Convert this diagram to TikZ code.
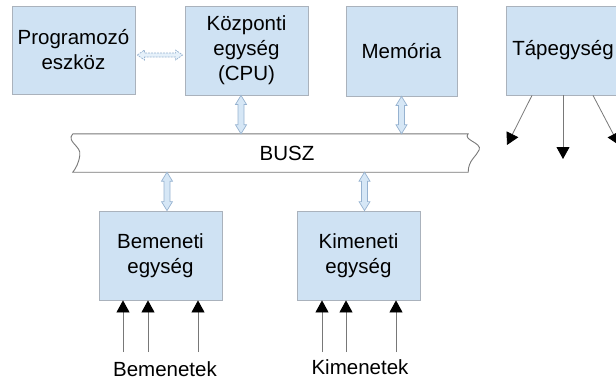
\documentclass[tikz,border=0pt]{standalone}
\usepackage{fontspec}
\setmainfont{Liberation Sans}
\usepackage{tikz}
\usetikzlibrary{arrows.meta}
\usetikzlibrary{calc}
\definecolor{unitfill}{RGB}{207,226,243}
\definecolor{unitedge}{RGB}{170,178,188}
\definecolor{linkfill}{RGB}{214,231,246}
\definecolor{linkedge}{RGB}{150,178,208}
\definecolor{wire}{RGB}{120,120,120}
\tikzset{unit/.style={draw=unitedge, fill=unitfill, line width=0.8pt, inner sep=0pt,
   align=center, minimum width=123pt, minimum height=89pt},
 busarrow/.style={draw=linkedge, fill=linkfill, line width=0.7pt,
   to path={let \p1=(\tikztostart), \p2=(\tikztotarget) in
   (\x1,\y1) -- (\x1+5.5pt,\y1-9pt) -- (\x1+3pt,\y1-9pt) -- (\x1+3pt,\y2+9pt)
   -- (\x1+5.5pt,\y2+9pt) -- (\x1,\y2) -- (\x1-5.5pt,\y2+9pt) -- (\x1-3pt,\y2+9pt)
   -- (\x1-3pt,\y1-9pt) -- (\x1-5.5pt,\y1-9pt) -- cycle}},
 linkarrow/.style={draw=linkedge, fill=linkfill!60, line width=0.7pt,
   dash pattern=on 2pt off 1pt,
   to path={let \p1=(\tikztostart), \p2=(\tikztotarget) in
   (\x1,\y1) -- (\x1+7pt,\y1+5pt) -- (\x1+7pt,\y1+2pt) -- (\x2-7pt,\y1+2pt)
   -- (\x2-7pt,\y1+5pt) -- (\x2,\y1) -- (\x2-7pt,\y1-5pt) -- (\x2-7pt,\y1-2pt)
   -- (\x1+7pt,\y1-2pt) -- (\x1+7pt,\y1-5pt) -- cycle}},
 sig/.style={draw=wire, line width=0.8pt, -{Triangle[width=13pt,length=12pt,color=black]}},
 busline/.style={draw=wire, line width=0.9pt},
 caption/.style={anchor=base, inner sep=0pt},
}

\begin{document}
\begin{tikzpicture}[x=1pt, y=-1pt, every node/.style={font=\fontsize{20.5}{25}\selectfont}]
    \useasboundingbox (0,0) rectangle (616,381);

    % top row
    \node[unit, minimum height=88pt] (prog) at (73.5,50) {Programozó\\eszköz};
    \node[unit] (cpu) at (246.5,50.5) {Központi\\egység\\(CPU)};
    \node[unit, minimum width=111pt, minimum height=90pt] (mem) at (401.5,51) {Memória};
    \node[unit, minimum width=114pt] (psu) at (563,50.5) {Tápegység};
    \draw[linkarrow] ($(prog.east)+(2,5)$) to ($(cpu.west)+(-2,5)$);

    % bus
    \node[minimum width=395pt, minimum height=38pt, inner sep=0pt] (bus) at (270.5,153) {};
    \node (busz) at (287,153) {BUSZ};
    \draw[busline] (bus.north west) -- (bus.north east)
        .. controls +(-6,6) and +(3,-7) .. ++(11,16)
        .. controls +(-3,7) and +(0,-12) .. (bus.south east)
        -- (bus.south west)
        .. controls +(3,-4) and +(-1,8) .. ++(7,-17)
        .. controls +(2,-9) and +(-7,8) .. (bus.north west);

    % bottom row
    \node[unit] (inunit) at (160.5,255.5) {Bemeneti\\egység};
    \node[unit] (outunit) at (358.5,255.5) {Kimeneti\\egység};
    \node[caption] (inlabel) at (165,376.5) {Bemenetek};
    \node[caption] (outlabel) at (360,374) {Kimenetek};

    % bus links
    \coordinate (cpulink) at ([xshift=-5.5pt]cpu.south);
    \coordinate (inlink) at ([xshift=6.5pt]inunit.north);
    \coordinate (outlink) at ([xshift=6pt]outunit.north);
    \draw[busarrow] (cpulink) to (cpulink |- bus.north);
    \draw[busarrow] (mem.south) to (mem.south |- bus.north);
    \draw[busarrow] (inlink |- bus.south) to (inlink);
    \draw[busarrow] (outlink |- bus.south) to (outlink);

    % signals
    \foreach \x[count=\i] in {123, 148, 198} {
        \coordinate (in\i) at (\x,352);
        \draw[sig] (in\i) -- (in\i |- inunit.south);
    }
    \foreach \x[count=\i] in {322, 346, 396} {
        \coordinate (out\i) at (\x,352);
        \draw[sig] (out\i) -- (out\i |- outunit.south);
    }
    \foreach \d/\e/\y[count=\i] in {-31/507/145, 0/563/159, 30/619/145} {
        \coordinate (pwr\i) at (\e,\y);
        \draw[sig] ([xshift=\d pt]psu.south) -- (pwr\i);
    }
\end{tikzpicture}
\end{document}
